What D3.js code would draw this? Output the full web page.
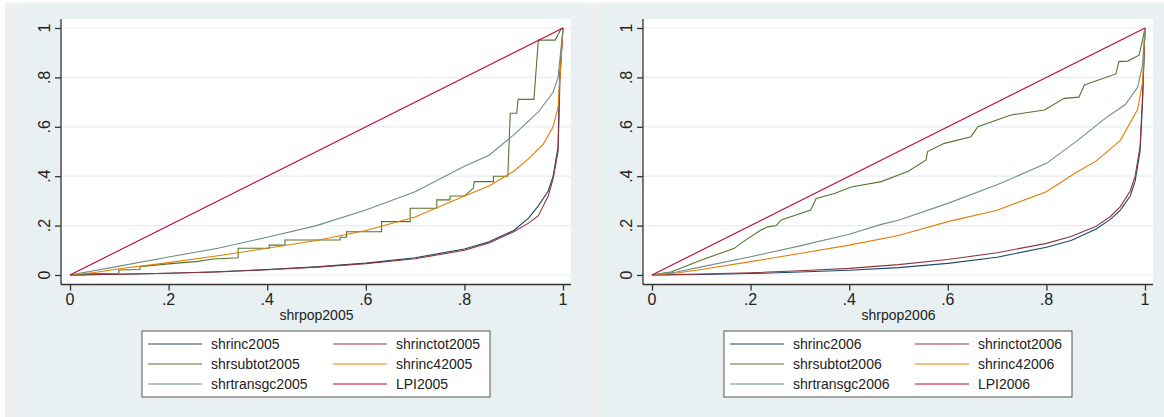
<!DOCTYPE html>
<html>
<head>
<meta charset="utf-8">
<script src="https://cdn.jsdelivr.net/npm/d3@7"></script>
<style>
  body { margin: 0; background: #ffffff; }
  svg { display: block; font-family: "Liberation Sans", Arial, sans-serif; }
</style>
</head>
<body>
<div id="chart"></div>
<script>
// ---- data: [shrpop, share] pairs ----
const xTicks = [0, 0.2, 0.4, 0.6, 0.8, 1]
const yTicks = [0, 0.2, 0.4, 0.6, 0.8, 1]
const tickLabels = ["0", ".2", ".4", ".6", ".8", "1"]

const shrinc2005 = [[0,0],[0.1,0.003],[0.2,0.007],[0.3,0.013],[0.4,0.022],[0.5,0.033],[0.6,0.048],[0.7,0.07],[0.8,0.105],[0.85,0.135],[0.9,0.18],[0.93,0.23],[0.95,0.28],[0.97,0.34],[0.98,0.4],[0.99,0.52],[0.993,0.8],[1,1]]
const shrinctot2005 = [[0,0],[0.1,0.003],[0.2,0.007],[0.3,0.012],[0.4,0.021],[0.5,0.032],[0.6,0.046],[0.7,0.066],[0.8,0.1],[0.85,0.13],[0.9,0.175],[0.93,0.21],[0.95,0.24],[0.97,0.32],[0.98,0.39],[0.99,0.5],[0.994,0.8],[1,1]]
const shrsubtot2005 = [[0,0],[0.03,0],[0.03,0.005],[0.099,0.007],[0.099,0.02],[0.142,0.022],[0.142,0.034],[0.2,0.045],[0.26,0.055],[0.29,0.065],[0.341,0.07],[0.341,0.108],[0.404,0.108],[0.404,0.121],[0.436,0.121],[0.436,0.142],[0.548,0.142],[0.548,0.153],[0.561,0.153],[0.561,0.175],[0.632,0.175],[0.632,0.216],[0.69,0.216],[0.69,0.27],[0.744,0.27],[0.744,0.304],[0.771,0.304],[0.771,0.32],[0.8,0.32],[0.818,0.351],[0.82,0.378],[0.859,0.378],[0.859,0.4],[0.888,0.4],[0.893,0.655],[0.906,0.655],[0.909,0.711],[0.941,0.711],[0.95,0.951],[0.984,0.951],[0.997,1]]
const shrinc42005 = [[0,0],[0.05,0.01],[0.1,0.025],[0.2,0.05],[0.3,0.078],[0.4,0.108],[0.5,0.14],[0.6,0.18],[0.7,0.235],[0.8,0.32],[0.85,0.36],[0.9,0.42],[0.93,0.47],[0.96,0.53],[0.98,0.6],[0.99,0.68],[1,1]]
const shrtransgc2005 = [[0,0],[0.1,0.036],[0.2,0.073],[0.3,0.108],[0.4,0.153],[0.5,0.2],[0.6,0.263],[0.7,0.337],[0.8,0.44],[0.85,0.485],[0.9,0.567],[0.95,0.66],[0.98,0.74],[0.99,0.8],[1,1]]
const LPI2005 = [[0,0],[1,1]]

const shrinc2006 = [[0,0],[0.1,0.002],[0.2,0.006],[0.3,0.012],[0.4,0.019],[0.5,0.03],[0.6,0.047],[0.7,0.072],[0.8,0.112],[0.85,0.14],[0.9,0.185],[0.93,0.225],[0.95,0.263],[0.97,0.32],[0.98,0.38],[0.99,0.5],[0.995,0.7],[1,1]]
const shrinctot2006 = [[0,0],[0.1,0.004],[0.2,0.009],[0.3,0.017],[0.4,0.027],[0.5,0.042],[0.6,0.063],[0.7,0.09],[0.8,0.128],[0.85,0.156],[0.9,0.196],[0.93,0.237],[0.95,0.277],[0.97,0.34],[0.98,0.4],[0.99,0.52],[0.995,0.72],[1,1]]
const shrsubtot2006 = [[0,0],[0.04,0.013],[0.099,0.06],[0.167,0.108],[0.18,0.128],[0.221,0.182],[0.235,0.195],[0.252,0.2],[0.262,0.223],[0.322,0.263],[0.333,0.31],[0.37,0.33],[0.404,0.356],[0.465,0.378],[0.52,0.42],[0.556,0.466],[0.559,0.5],[0.593,0.533],[0.647,0.56],[0.661,0.6],[0.728,0.648],[0.796,0.668],[0.836,0.715],[0.866,0.72],[0.877,0.769],[0.941,0.814],[0.947,0.864],[0.965,0.866],[0.988,0.89],[0.995,0.951],[1,1]]
const shrinc42006 = [[0,0],[0.05,0.008],[0.1,0.022],[0.2,0.054],[0.3,0.087],[0.4,0.121],[0.5,0.16],[0.6,0.216],[0.7,0.262],[0.8,0.337],[0.86,0.415],[0.9,0.46],[0.95,0.545],[0.985,0.67],[0.995,0.78],[1,1]]
const shrtransgc2006 = [[0,0],[0.05,0.012],[0.1,0.033],[0.2,0.074],[0.3,0.118],[0.4,0.165],[0.465,0.205],[0.5,0.222],[0.6,0.29],[0.7,0.365],[0.8,0.452],[0.86,0.54],[0.92,0.635],[0.96,0.69],[0.985,0.76],[0.995,0.85],[1,1]]
const LPI2006 = [[0,0],[1,1]]

const seriesNames = ["shrinc", "shrinctot", "shrsubtot", "shrinc4", "shrtransgc", "LPI"]
const seriesColors = ["#1a476f", "#90353b", "#55752f", "#e37e00", "#6e8e84", "#c10534"]

const panels = [
  { year: "2005", dx: 0, series: [shrinc2005, shrinctot2005, shrsubtot2005, shrinc42005, shrtransgc2005, LPI2005] },
  { year: "2006", dx: 582, series: [shrinc2006, shrinctot2006, shrsubtot2006, shrinc42006, shrtransgc2006, LPI2006] }
]

const width = 1164
const height = 417

const svg = d3.select("#chart").append("svg")
  .attr("width", width)
  .attr("height", height)

function drawPanel(p) {
  const g = svg.append("g").attr("transform", `translate(${p.dx},0)`)

  // outer strip + graph region
  g.append("rect").attr("x", 5).attr("y", 3).attr("width", 14).attr("height", height - 3).attr("fill", "#f0efef")
  g.append("rect").attr("x", 19).attr("y", 3).attr("width", 568).attr("height", height - 3).attr("fill", "#e8f0f2")
  // plot region
  g.append("rect").attr("x", 61).attr("y", 19).attr("width", 510).attr("height", 265).attr("fill", "#ffffff")

  const x = d3.scaleLinear().domain([0, 1]).range([70, 563])
  const y = d3.scaleLinear().domain([0, 1]).range([275, 28])

  // grid
  g.append("g").selectAll("line").data(yTicks).join("line")
    .attr("x1", 61).attr("x2", 571)
    .attr("y1", d => y(d)).attr("y2", d => y(d))
    .attr("stroke", "#e6eef1").attr("stroke-width", 1.2)

  // axes
  const yAxis = g.append("g").attr("transform", "translate(61,0)")
    .call(d3.axisLeft(y).tickValues(yTicks).tickSize(6).tickFormat(""))
  yAxis.select(".domain").attr("d", "M0,19V284.5")
  const xAxis = g.append("g").attr("transform", "translate(0,284.5)")
    .call(d3.axisBottom(x).tickValues(xTicks).tickSize(6).tickFormat(""))
  xAxis.select(".domain").attr("d", "M61,0H571")
  g.selectAll(".domain, .tick line").attr("stroke", "#333").attr("stroke-width", 1.3)

  g.append("g").selectAll("text").data(yTicks).join("text")
    .attr("transform", d => `translate(44,${y(d)}) rotate(-90)`)
    .attr("text-anchor", "middle")
    .attr("dominant-baseline", "central")
    .attr("font-size", 16).attr("fill", "#222")
    .text((d, i) => tickLabels[i])
  g.append("g").selectAll("text").data(xTicks).join("text")
    .attr("x", d => x(d)).attr("y", 305)
    .attr("text-anchor", "middle")
    .attr("font-size", 16).attr("fill", "#222")
    .text((d, i) => tickLabels[i])

  g.append("text")
    .attr("x", (x(0) + x(1)) / 2).attr("y", 320)
    .attr("text-anchor", "middle")
    .attr("font-size", 14).attr("fill", "#222")
    .text("shrpop" + p.year)

  // curves
  const line = d3.line().x(d => x(d[0])).y(d => y(d[1]))
  g.append("g").selectAll("path").data(p.series).join("path")
    .attr("d", line)
    .attr("fill", "none")
    .attr("stroke", (d, i) => seriesColors[i])
    .attr("stroke-width", 1.1)

  // legend
  const lg = g.append("g").attr("transform", "translate(142,331)")
  lg.append("rect").attr("width", 348).attr("height", 66)
    .attr("fill", "#fff").attr("stroke", "#555").attr("stroke-width", 1)
  const item = lg.selectAll(".item").data(seriesNames).join("g")
    .attr("class", "item")
    .attr("transform", (d, i) => `translate(${(i % 2) * 185},${13 + Math.floor(i / 2) * 20})`)
  item.append("line")
    .attr("x1", 6).attr("x2", 60)
    .attr("stroke", (d, i) => seriesColors[i]).attr("stroke-width", 1.2)
  item.append("text")
    .attr("x", 69).attr("dy", "0.36em")
    .attr("font-size", 14).attr("fill", "#222")
    .text(d => d + p.year)
}

panels.forEach(drawPanel)
</script>
</body>
</html>
